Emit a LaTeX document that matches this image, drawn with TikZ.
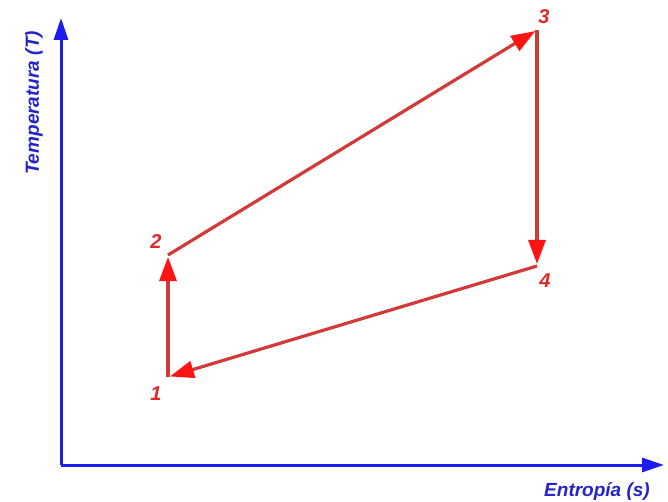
\documentclass[tikz,border=0pt]{standalone}
\usepackage{fontspec}
\setmainfont{Liberation Sans}
\usetikzlibrary{arrows.meta}
\definecolor{axblue}{HTML}{1C1CF0}
\definecolor{txtblue}{HTML}{2424C8}
\definecolor{lnred}{HTML}{D23A3A}
\definecolor{hdred}{HTML}{FF1414}
\definecolor{numred}{HTML}{E02828}
\tikzset{
  axis/.style={draw=axblue, line width=3pt, -{Triangle[length=22pt,width=14pt]}},
  proc/.style={draw=lnred, line width=3.2pt, -{Triangle[length=24pt,width=17pt,color=hdred]}, shorten >=2pt},
  num/.style={text=numred, font=\fontsize{20}{22}\selectfont\bfseries\itshape, inner sep=0pt},
  axlabel/.style={text=txtblue, font=\fontsize{19}{21}\selectfont\bfseries\itshape, inner sep=0pt}
}
\begin{document}
\begin{tikzpicture}[x=1pt,y=1pt]
\useasboundingbox (0,0) rectangle (668,501);
\fill[white] (0,0) rectangle (668,501);
% axes
\coordinate (O) at (61,36);
\coordinate (Ytop) at (61,483);
\coordinate (Xend) at (664,36);
\draw[axis] (O) -- (Ytop);
\draw[axis] (O) -- (Xend);
\node[axlabel, rotate=90] (tlab) at (34,398) {Temperatura (T)};
\node[axlabel] (slab) at (597,10) {Entropía (s)};
% states
\coordinate (p1) at (168,124);
\coordinate (p2) at (168,246);
\coordinate (p3) at (537,471);
\coordinate (p4) at (537,235);
\node[num] (n1) at (156,107) {1};
\node[num] (n2) at (156,259) {2};
\node[num] (n3) at (544,484) {3};
\node[num] (n4) at (545,220) {4};
% processes
\draw[proc] (p1) -- (p2);
\draw[proc] (p2) -- (p3);
\draw[proc] (p3) -- (p4);
\draw[proc] (p4) -- (p1);
\end{tikzpicture}
\end{document}
